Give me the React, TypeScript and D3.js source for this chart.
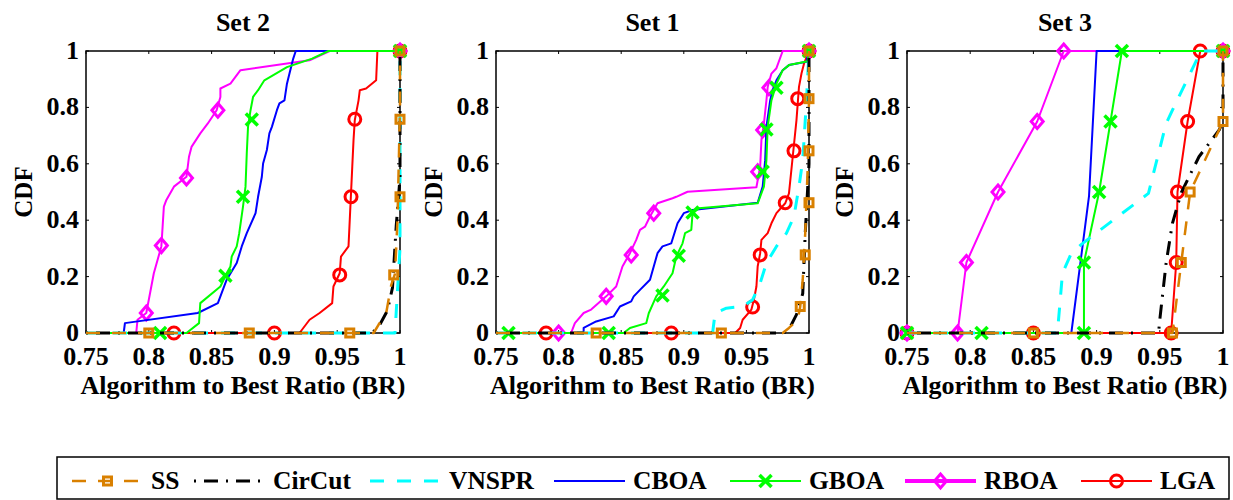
import React from "react";
import * as d3 from "d3";

type P = [number, number];

// ---------- Set 2 ----------
const S2_SS: P[] = [[0.75,0],[0.979,0],[0.983,0.03],[0.989,0.07],[0.993,0.17],[0.996,0.21],[0.998,0.4],[0.999,0.6],[1,0.8],[1,1]];
const S2_SS_M: P[] = [[0.8,0],[0.88,0],[0.96,0],[0.995,0.206],[1,0.483],[1,0.758],[1,1]];
const S2_CIR: P[] = [[0.75,0],[0.978,0],[0.984,0.03],[0.99,0.08],[0.994,0.16],[0.997,0.38],[1,0.55],[1,1]];
const S2_VNS: P[] = [[0.75,0],[0.996,0],[1,0.3],[1,1]];
const S2_CBOA: P[] = [[0.75,0],[0.78,0],[0.781,0.035],[0.839,0.071],[0.855,0.106],[0.862,0.189],[0.87,0.248],[0.874,0.307],[0.878,0.354],[0.885,0.425],[0.887,0.483],[0.89,0.554],[0.891,0.601],[0.894,0.649],[0.896,0.708],[0.898,0.731],[0.902,0.79],[0.904,0.814],[0.908,0.825],[0.91,0.884],[0.912,0.92],[0.915,0.973],[0.917,1],[1,1]];
const S2_GBOA: P[] = [[0.75,0],[0.83,0],[0.84,0.035],[0.841,0.106],[0.857,0.165],[0.862,0.212],[0.865,0.236],[0.866,0.271],[0.87,0.307],[0.872,0.354],[0.875,0.448],[0.877,0.519],[0.878,0.637],[0.879,0.731],[0.881,0.79],[0.883,0.837],[0.887,0.861],[0.892,0.896],[0.91,0.943],[0.93,0.973],[0.943,1],[1,1]];
const S2_GBOA_M: P[] = [[0.809,0],[0.861,0.203],[0.875,0.483],[0.882,0.757],[1,1]];
const S2_RBOA: P[] = [[0.75,0],[0.79,0],[0.791,0.047],[0.798,0.071],[0.802,0.165],[0.804,0.212],[0.81,0.307],[0.811,0.377],[0.812,0.448],[0.814,0.472],[0.82,0.519],[0.83,0.554],[0.832,0.625],[0.834,0.66],[0.841,0.708],[0.847,0.743],[0.854,0.79],[0.857,0.837],[0.857,0.867],[0.865,0.884],[0.873,0.932],[0.928,0.967],[0.944,1],[1,1]];
const S2_RBOA_M: P[] = [[0.798,0.071],[0.81,0.31],[0.83,0.55],[0.855,0.79],[1,1]];
const S2_LGA: P[] = [[0.75,0],[0.92,0],[0.928,0.047],[0.936,0.071],[0.946,0.106],[0.947,0.165],[0.952,0.212],[0.953,0.271],[0.959,0.307],[0.96,0.401],[0.962,0.59],[0.963,0.684],[0.964,0.755],[0.967,0.825],[0.968,0.861],[0.973,0.867],[0.981,0.896],[0.982,1],[1,1]];
const S2_LGA_M: P[] = [[0.82,0],[0.9,0],[0.952,0.206],[0.961,0.483],[0.964,0.758],[1,1]];

// ---------- Set 1 ----------
const S1_SS: P[] = [[0.75,0],[0.979,0],[0.984,0.018],[0.991,0.047],[0.993,0.094],[0.995,0.189],[0.997,0.354],[0.999,0.59],[1,0.825],[1,1]];
const S1_SS_M: P[] = [[0.83,0],[0.93,0],[0.993,0.094],[0.997,0.277],[1,0.462],[1,0.646],[1,0.831],[1,1]];
const S1_CIR: P[] = [[0.75,0],[0.98,0],[0.986,0.03],[0.99,0.065],[0.995,0.14],[0.997,0.354],[1,0.6],[1,1]];
const S1_VNS: P[] = [[0.75,0],[0.923,0],[0.925,0.071],[0.934,0.088],[0.947,0.094],[0.955,0.118],[0.961,0.177],[0.966,0.248],[0.974,0.307],[0.982,0.354],[0.988,0.413],[0.992,0.519],[0.995,0.613],[0.998,0.825],[1,1]];
const S1_CBOA: P[] = [[0.75,0],[0.82,0],[0.82,0.018],[0.83,0.041],[0.844,0.059],[0.849,0.094],[0.858,0.112],[0.86,0.13],[0.865,0.153],[0.873,0.189],[0.879,0.283],[0.883,0.307],[0.89,0.318],[0.895,0.389],[0.9,0.425],[0.907,0.436],[0.959,0.462],[0.963,0.519],[0.965,0.613],[0.966,0.731],[0.969,0.825],[0.971,0.861],[0.974,0.896],[0.979,0.932],[0.984,0.95],[0.998,0.962],[1,1]];
const S1_GBOA: P[] = [[0.75,0],[0.852,0],[0.857,0.018],[0.87,0.035],[0.872,0.07],[0.878,0.13],[0.884,0.165],[0.891,0.212],[0.894,0.271],[0.899,0.318],[0.901,0.354],[0.906,0.366],[0.907,0.425],[0.912,0.442],[0.959,0.46],[0.964,0.519],[0.966,0.613],[0.967,0.731],[0.97,0.825],[0.974,0.884],[0.979,0.932],[0.984,0.95],[0.999,0.964],[1,1]];
const S1_GBOA_M: P[] = [[0.76,0],[0.84,0],[0.883,0.133],[0.896,0.274],[0.907,0.427],[0.963,0.572],[0.966,0.722],[0.974,0.87],[1,1]];
const S1_RBOA: P[] = [[0.75,0],[0.81,0],[0.813,0.035],[0.82,0.071],[0.826,0.083],[0.838,0.13],[0.846,0.165],[0.851,0.236],[0.857,0.283],[0.862,0.33],[0.865,0.366],[0.869,0.377],[0.873,0.413],[0.879,0.46],[0.891,0.478],[0.894,0.483],[0.903,0.501],[0.958,0.517],[0.961,0.59],[0.962,0.684],[0.964,0.743],[0.966,0.825],[0.967,0.872],[0.97,0.92],[0.974,0.939],[0.979,1],[1,1]];
const S1_RBOA_M: P[] = [[0.8,0],[0.838,0.13],[0.858,0.277],[0.876,0.425],[0.959,0.572],[0.963,0.72],[0.968,0.87],[1,1]];
const S1_LGA: P[] = [[0.75,0],[0.941,0],[0.945,0.018],[0.947,0.047],[0.954,0.083],[0.956,0.118],[0.958,0.165],[0.959,0.236],[0.961,0.283],[0.962,0.33],[0.967,0.354],[0.97,0.389],[0.974,0.425],[0.981,0.46],[0.984,0.495],[0.987,0.625],[0.99,0.755],[0.992,0.873],[0.994,0.92],[0.996,0.955],[1,1]];
const S1_LGA_M: P[] = [[0.79,0],[0.89,0],[0.955,0.092],[0.961,0.277],[0.981,0.462],[0.988,0.646],[0.991,0.831],[1,1]];

// ---------- Set 3 ----------
const S3_SS: P[] = [[0.75,0],[0.96,0],[0.967,0.25],[0.974,0.5],[1,0.75],[1,1]];
const S3_SS_M: P[] = [[0.85,0],[0.96,0],[0.967,0.25],[0.974,0.5],[1,0.75],[1,1]];
const S3_CIR: P[] = [[0.75,0],[0.949,0],[0.95,0.047],[0.955,0.248],[0.96,0.389],[0.967,0.498],[0.981,0.625],[0.997,0.72],[1,0.75],[1,1]];
const S3_VNS: P[] = [[0.75,0],[0.869,0],[0.873,0.212],[0.88,0.283],[0.889,0.318],[0.941,0.495],[0.945,0.566],[0.955,0.743],[0.96,0.79],[0.979,0.967],[0.982,1],[1,1]];
const S3_CBOA: P[] = [[0.75,0],[0.88,0],[0.894,0.485],[0.9,1],[1,1]];
const S3_GBOA: P[] = [[0.75,0],[0.89,0],[0.89,0.25],[0.902,0.5],[0.911,0.75],[0.92,1],[1,1]];
const S3_GBOA_M: P[] = [[0.75,0],[0.809,0],[0.89,0],[0.89,0.25],[0.902,0.5],[0.911,0.75],[0.92,1],[1,1]];
const S3_RBOA: P[] = [[0.75,0],[0.79,0],[0.797,0.25],[0.822,0.5],[0.853,0.75],[0.874,1],[1,1]];
const S3_RBOA_M: P[] = [[0.75,0],[0.79,0],[0.797,0.25],[0.822,0.5],[0.853,0.75],[0.874,1],[1,1]];
const S3_LGA: P[] = [[0.75,0],[0.959,0],[0.963,0.25],[0.964,0.5],[0.972,0.75],[0.982,1],[1,1]];
const S3_LGA_M: P[] = [[0.75,0],[0.85,0],[0.959,0],[0.963,0.25],[0.964,0.5],[0.972,0.75],[0.982,1],[1,1]];

const TITLES = ["Set 2", "Set 1", "Set 3"];
const X_TICKS = [0.75, 0.8, 0.85, 0.9, 0.95, 1];
const X_TICK_LABELS = ["0.75", "0.8", "0.85", "0.9", "0.95", "1"];
const Y_TICKS = [0, 0.2, 0.4, 0.6, 0.8, 1];
const Y_TICK_LABELS = ["0", "0.2", "0.4", "0.6", "0.8", "1"];
const X_LABEL = "Algorithm to Best Ratio (BR)";
const Y_LABEL = "CDF";
const SERIES_NAMES = ["SS", "CirCut", "VNSPR", "CBOA", "GBOA", "RBOA", "LGA"];

type Marker = "square" | "none" | "x" | "diamond" | "circle";
interface Style { color: string; width: number; dash?: string; marker: Marker; }
const STYLES: Record<string, Style> = {
  SS: { color: "#D98000", width: 2.5, dash: "14,12", marker: "square" },
  CirCut: { color: "#000000", width: 3, dash: "2,8,14,8", marker: "none" },
  VNSPR: { color: "#00FFFF", width: 3, dash: "14,13", marker: "none" },
  CBOA: { color: "#0000FF", width: 2, marker: "none" },
  GBOA: { color: "#00FF00", width: 2, marker: "x" },
  RBOA: { color: "#FF00FF", width: 2, marker: "diamond" },
  LGA: { color: "#FF0000", width: 2, marker: "circle" },
};

interface Series { name: string; line: P[]; marks: P[]; }
const PANELS: Series[][] = [
  [
    { name: "SS", line: S2_SS, marks: S2_SS_M },
    { name: "CirCut", line: S2_CIR, marks: [] },
    { name: "VNSPR", line: S2_VNS, marks: [] },
    { name: "CBOA", line: S2_CBOA, marks: [] },
    { name: "GBOA", line: S2_GBOA, marks: S2_GBOA_M },
    { name: "RBOA", line: S2_RBOA, marks: S2_RBOA_M },
    { name: "LGA", line: S2_LGA, marks: S2_LGA_M },
  ],
  [
    { name: "SS", line: S1_SS, marks: S1_SS_M },
    { name: "CirCut", line: S1_CIR, marks: [] },
    { name: "VNSPR", line: S1_VNS, marks: [] },
    { name: "CBOA", line: S1_CBOA, marks: [] },
    { name: "GBOA", line: S1_GBOA, marks: S1_GBOA_M },
    { name: "RBOA", line: S1_RBOA, marks: S1_RBOA_M },
    { name: "LGA", line: S1_LGA, marks: S1_LGA_M },
  ],
  [
    { name: "SS", line: S3_SS, marks: S3_SS_M },
    { name: "CirCut", line: S3_CIR, marks: [] },
    { name: "VNSPR", line: S3_VNS, marks: [] },
    { name: "CBOA", line: S3_CBOA, marks: [] },
    { name: "GBOA", line: S3_GBOA, marks: S3_GBOA_M },
    { name: "RBOA", line: S3_RBOA, marks: S3_RBOA_M },
    { name: "LGA", line: S3_LGA, marks: S3_LGA_M },
  ],
];

const DRAW_ORDER = ["LGA", "RBOA", "CBOA", "GBOA", "VNSPR", "CirCut", "SS"];

const FONT = "'Liberation Serif', 'Times New Roman', serif";
const W = 1233, H = 500;
const PANEL_X: [number, number][] = [[86, 400], [496, 809], [907, 1223]];
const TOP = 51, BOTTOM = 333;
const LEGEND_X = [72, 194, 370, 554, 730, 905, 1081];
const FS = 26;

function MarkerShape({ type, x, y, color }: { type: Marker; x: number; y: number; color: string }) {
  if (type === "square")
    return <rect x={x - 4} y={y - 4} width={8} height={8} fill="none" stroke={color} strokeWidth={3} />;
  if (type === "circle")
    return <circle cx={x} cy={y} r={6} fill="none" stroke={color} strokeWidth={3} />;
  if (type === "x")
    return (
      <g stroke={color} strokeWidth={3.5} strokeLinecap="butt">
        <line x1={x - 6} y1={y - 6} x2={x + 6} y2={y + 6} />
        <line x1={x - 6} y1={y + 6} x2={x + 6} y2={y - 6} />
      </g>
    );
  if (type === "diamond")
    return <path d={`M${x},${y - 7}L${x + 6},${y}L${x},${y + 7}L${x - 6},${y}Z`} fill="none" stroke={color} strokeWidth={3} />;
  return null;
}

function Panel({ idx }: { idx: number }) {
  const [x0, x1] = PANEL_X[idx];
  const xs = d3.scaleLinear().domain([0.75, 1]).range([x0, x1]);
  const ys = d3.scaleLinear().domain([0, 1]).range([BOTTOM, TOP]);
  const lineGen = d3.line<P>().x((d) => xs(d[0])).y((d) => ys(d[1]));
  const series = PANELS[idx];
  const ordered = DRAW_ORDER.map((n) => series.find((s) => s.name === n)!);
  const tl = 3;
  return (
    <g>
      <text x={(x0 + x1) / 2} y={31} textAnchor="middle" fontFamily={FONT} fontWeight="bold" fontSize={FS}>{TITLES[idx]}</text>
      <rect x={x0} y={TOP} width={x1 - x0} height={BOTTOM - TOP} fill="white" stroke="black" strokeWidth={1.5} />
      {X_TICKS.map((t, i) => (
        <g key={"xt" + i}>
          <line x1={xs(t)} x2={xs(t)} y1={BOTTOM} y2={BOTTOM - tl} stroke="black" strokeWidth={1} />
          <line x1={xs(t)} x2={xs(t)} y1={TOP} y2={TOP + tl} stroke="black" strokeWidth={1} />
          <text x={xs(t)} y={365} textAnchor="middle" fontFamily={FONT} fontWeight="bold" fontSize={FS}>{X_TICK_LABELS[i]}</text>
        </g>
      ))}
      {Y_TICKS.map((t, i) => (
        <g key={"yt" + i}>
          <line x1={x0} x2={x0 + tl} y1={ys(t)} y2={ys(t)} stroke="black" strokeWidth={1} />
          <line x1={x1} x2={x1 - tl} y1={ys(t)} y2={ys(t)} stroke="black" strokeWidth={1} />
          <text x={x0 - 7} y={ys(t) + 8} textAnchor="end" fontFamily={FONT} fontWeight="bold" fontSize={FS}>{Y_TICK_LABELS[i]}</text>
        </g>
      ))}
      <text x={(x0 + x1) / 2} y={394} textAnchor="middle" fontFamily={FONT} fontWeight="bold" fontSize={FS}>{X_LABEL}</text>
      <text transform={`translate(${x0 - 63},${(TOP + BOTTOM) / 2}) rotate(-90)`} textAnchor="middle" fontFamily={FONT} fontWeight="bold" fontSize={25} dy={9}>{Y_LABEL}</text>
      {ordered.map((s) => {
        const st = STYLES[s.name];
        return (
          <g key={s.name}>
            <path d={lineGen(s.line) || ""} fill="none" stroke={st.color} strokeWidth={st.width} strokeDasharray={st.dash} strokeLinejoin="round" />
            {s.marks.map((m, j) => (
              <MarkerShape key={j} type={st.marker} x={xs(m[0])} y={ys(m[1])} color={st.color} />
            ))}
          </g>
        );
      })}
    </g>
  );
}

function Legend() {
  const y = 481;
  return (
    <g>
      <rect x={57} y={457} width={1172} height={42} fill="white" stroke="black" strokeWidth={1.5} />
      {SERIES_NAMES.map((n, i) => {
        const st = STYLES[n];
        const lx = LEGEND_X[i];
        return (
          <g key={n}>
            <line x1={lx} x2={lx + 71} y1={y} y2={y} stroke={st.color} strokeWidth={n === "RBOA" ? 4 : st.width} strokeDasharray={st.dash} />
            <MarkerShape type={st.marker} x={lx + 35.5} y={y} color={st.color} />
            <text x={lx + 79} y={489} fontFamily={FONT} fontWeight="bold" fontSize={25.5}>{n}</text>
          </g>
        );
      })}
    </g>
  );
}

export default function App() {
  return (
    <svg width={W} height={H} style={{ position: "absolute", left: 0, top: 0, background: "white" }}>
      <rect x={0} y={0} width={W} height={H} fill="white" />
      {[0, 1, 2].map((i) => <Panel key={i} idx={i} />)}
      <Legend />
    </svg>
  );
}
